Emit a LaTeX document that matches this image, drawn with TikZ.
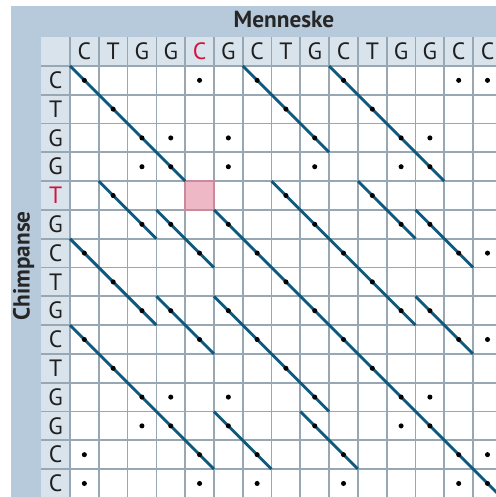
\documentclass[tikz,border=0pt]{standalone}
\usepackage{fontspec}
\setmainfont{PT Sans}
\usepackage{tikz}

\definecolor{band}{HTML}{B7CADB}
\definecolor{labcell}{HTML}{D9E3EC}
\definecolor{gridline}{HTML}{97A7B4}
\definecolor{runline}{HTML}{0E5A7E}
\definecolor{diff}{HTML}{D2143F}
\definecolor{diffcell}{HTML}{EFB8C6}
\definecolor{diffedge}{HTML}{C98A9B}

% the two sequences, letter/style
\newcommand{\humanseq}{C/lab,T/lab,G/lab,G/lab,C/difflab,G/lab,C/lab,T/lab,G/lab,C/lab,T/lab,G/lab,G/lab,C/lab,C/lab}
\newcommand{\chimpseq}{C/lab,T/lab,G/lab,G/lab,T/difflab,G/lab,C/lab,T/lab,G/lab,C/lab,T/lab,G/lab,G/lab,C/lab,C/lab}

\begin{document}
\begin{tikzpicture}[x=0.6cm,y=0.6cm,
  lab/.style={font=\fontsize{14}{14}\selectfont,text=black!88,inner sep=0pt},
  difflab/.style={lab,text=diff},
  title/.style={font=\bfseries\fontsize{13.8}{13.8}\selectfont,text=black!85,inner sep=0pt},
  dot/.style={circle,fill=black,inner sep=0pt,minimum size=3pt},
  run/.style={runline,line width=1.7pt},
  grid/.style={gridline,line width=1pt}]
\useasboundingbox (-2.43,-14.97) rectangle (14.79,2.29);
% background bands and cells
\fill[band] (-2.05,-15.3) rectangle (15.3,2.08);
\fill[labcell] (-1,-15.3) rectangle (0,1);
\fill[labcell] (0,0) rectangle (15.3,1);
\fill[white] (0,-15.3) rectangle (15.3,0);
\fill[diffcell] (4,-5) rectangle (5,-4);
\foreach \k in {0,...,15} {
  \draw[grid] (\k,1) -- (\k,-15.3);
  \draw[grid] (-1,-\k) -- (15.3,-\k);
}
\draw[diffedge,line width=0.8pt] (4,-5) rectangle (5,-4);
% grid corners
\foreach \i in {0,...,15} {
  \foreach \j in {0,...,15} { \coordinate (p-\i-\j) at (\j,-\i); }
}
% headers
\node[title] (human) at (7.43,1.6) {Menneske};
\node[title,rotate=90] (chimp) at (-1.61,-6.94) {Chimpanse};
\foreach \txt/\sty [count=\c] in \humanseq { \node[\sty] (top-\c) at (\c-0.5,0.5) {\txt}; }
\foreach \txt/\sty [count=\r] in \chimpseq { \node[\sty] (side-\r) at (-0.5,-\r+0.5) {\txt}; }
% matching runs along the diagonals
\foreach \ra/\ca/\rb/\cb in {0/0/4/4,5/5/15/15,4/7/9/12,8/12/10/14,0/6/3/9,4/10/6/12,5/12/7/14,0/9/4/13,
  5/3/7/5,4/1/6/3,8/5/12/9,12/8/14/10,8/3/10/5,6/0/9/3,12/5/14/7,9/0/14/5}
  \draw[run] (p-\ra-\ca) -- (p-\rb-\cb);
% a dot wherever the letters agree
\foreach \rl/\rs [count=\r] in \chimpseq {
  \foreach \cl/\cs [count=\c] in \humanseq {
    \ifx\rl\cl \node[dot] (m-\r-\c) at (\c-0.5,-\r+0.5) {}; \fi
  }
}
\end{tikzpicture}
\end{document}
